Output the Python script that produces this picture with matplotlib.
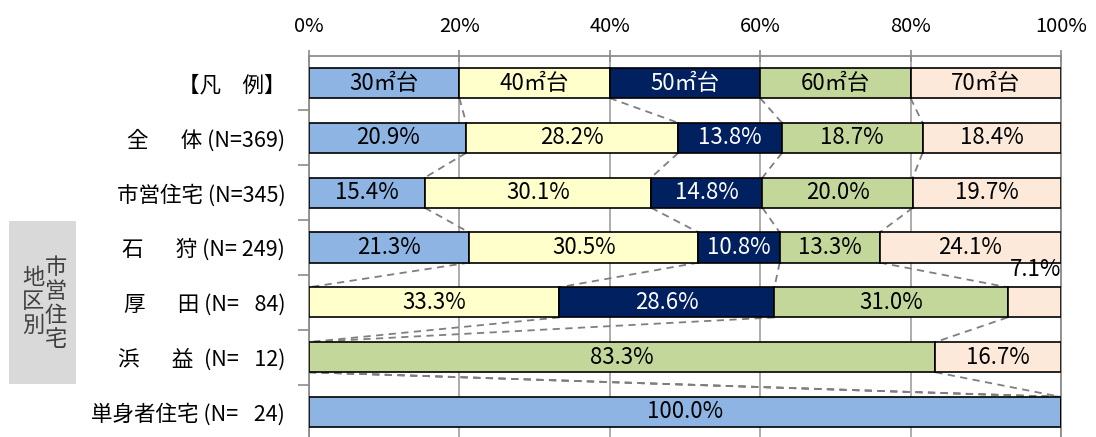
import matplotlib
matplotlib.use("Agg")
from matplotlib import pyplot as plt
from matplotlib.patches import Rectangle
import numpy as np

plt.rcParams['font.family'] = ['Noto Sans CJK JP', 'DejaVu Sans']

# データ
rows = ['【凡\u3000例】',
        '全\u3000\u2002体 (N=369)',
        '市営住宅 (N=345)',
        '石\u3000\u2002狩 (N= 249)',
        '厚\u3000\u2002田 (N=\u2002 84)',
        '浜\u3000\u2002益\u2002(N=\u2002 12)',
        '単身者住宅 (N=\u2002 24)']
sizes = ['30㎡台', '40㎡台', '50㎡台', '60㎡台', '70㎡台']
colors = ['#8DB4E2', '#FFFFCC', '#002060', '#C4D79B', '#FDE9D9']
text_colors = ['black', 'black', 'white', 'black', 'black']

legend_vals = [20, 20, 20, 20, 20]
v_30 = [20.9, 15.4, 21.3, 0.0, 0.0, 100.0]
v_40 = [28.2, 30.1, 30.5, 33.3, 0.0, 0.0]
v_50 = [13.8, 14.8, 10.8, 28.6, 0.0, 0.0]
v_60 = [18.7, 20.0, 13.3, 31.0, 83.3, 0.0]
v_70 = [18.4, 19.7, 24.1, 7.1, 16.7, 0.0]

data = np.array([legend_vals] + [list(r) for r in zip(v_30, v_40, v_50, v_60, v_70)])

fig = plt.figure(figsize=(10.96, 4.37), dpi=100)
ax = fig.add_axes([0.2819, -0.0055, 0.6861, 0.8782])

h = 0.55
y = np.arange(len(rows))
left = np.zeros(len(rows))
for j in range(5):
    ax.barh(y, data[:, j], left=left, height=h, color=colors[j],
            edgecolor='black', linewidth=1.2, zorder=3)
    for i in range(len(rows)):
        v = data[i, j]
        if v <= 0:
            continue
        if i == 0:
            s = sizes[j]
        else:
            s = '{:.1f}%'.format(v)
        if v < 8:
            ax.text(left[i] + v, y[i] - 0.6, s, ha='right', va='center',
                    fontsize=16, color='black', zorder=5)
        else:
            ax.text(left[i] + v / 2, y[i], s, ha='center', va='center',
                    fontsize=16, color=text_colors[j], zorder=5)
    left = left + data[:, j]

# 区切り線（破線）
cum = np.cumsum(data, axis=1)
for i in range(len(rows) - 1):
    for j in range(4):
        ax.plot([cum[i, j], cum[i + 1, j]], [y[i] + h / 2, y[i + 1] - h / 2],
                color='#7F7F7F', linestyle=(0, (4, 3)), linewidth=1.3, zorder=2)

ax.set_xlim(0, 100)
ax.set_ylim(len(rows) - 0.5, -0.5)
ax.set_xticks(range(0, 101, 20))
ax.set_xticklabels(['{}%'.format(t) for t in range(0, 101, 20)])
ax.xaxis.tick_top()
ax.tick_params(axis='x', direction='inout', length=9, width=1.2, color='#8C8C8C',
               labelsize=14.5, pad=9)
ax.set_yticks(y)
ax.set_yticklabels(rows, fontsize=15.5)
ax.set_yticks(np.arange(0.5, len(rows) - 1, 1), minor=True)
ax.tick_params(axis='y', which='major', length=0, pad=17)
ax.tick_params(axis='y', which='minor', length=8, width=1.2, color='#8C8C8C')
ax.grid(axis='x', color='#A6A6A6', linewidth=1.3, zorder=0)
for sp in ['top', 'left', 'right']:
    ax.spines[sp].set_color('#8C8C8C')
    ax.spines[sp].set_linewidth(1.3)
ax.spines['bottom'].set_visible(False)

# 左側の灰色ボックス
W, H = 1096.0, 437.0
fig.patches.append(Rectangle((9 / W, 1 - 384 / H), 67 / W, 163 / H,
                             transform=fig.transFigure, facecolor='#D9D9D9',
                             edgecolor='none'))
for k, ch in enumerate('市営住宅'):
    fig.text(56 / W, 1 - (267 + 24 * k) / H, ch, ha='center', va='center',
             fontsize=16, color='#404040')
for k, ch in enumerate('地区別'):
    fig.text(33 / W, 1 - (277 + 24 * k) / H, ch, ha='center', va='center',
             fontsize=16, color='#404040')

fig.savefig('out.png', dpi=100)
